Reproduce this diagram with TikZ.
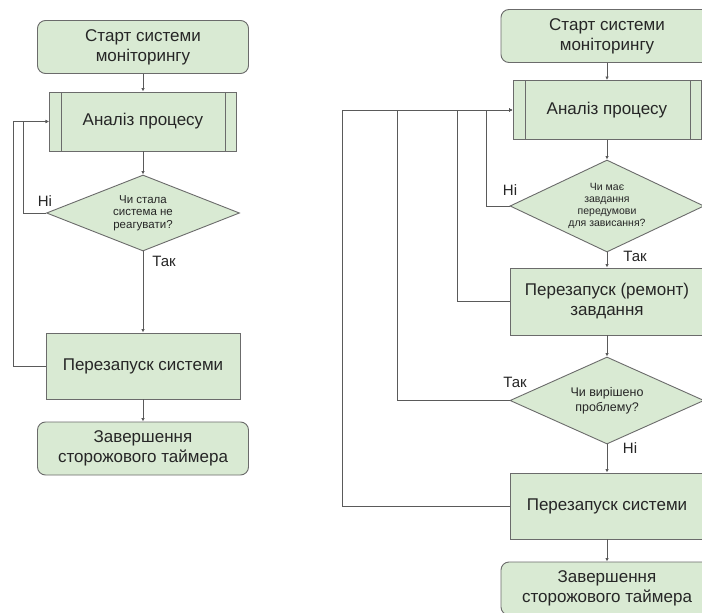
\documentclass[tikz,border=0pt]{standalone}
\usepackage{fontspec}
\setmainfont{Liberation Sans}
\usetikzlibrary{shapes.geometric,arrows.meta}
\definecolor{boxfill}{HTML}{D9EAD3}
\definecolor{boxline}{HTML}{6B6B6B}
\definecolor{wire}{HTML}{5A5A5A}
\tikzset{
  base/.style={draw=boxline, fill=boxfill, line width=0.9pt, text=black!85, align=center,
    font=\fontsize{17}{20}\selectfont, inner sep=0pt},
  terminal/.style={base, rounded corners=8pt, minimum height=53pt},
  procbox/.style={base, minimum height=66pt},
  subproc/.style={base, minimum height=59pt,
    path picture={
      \draw[boxline, line width=0.9pt] ([xshift=12pt]path picture bounding box.north west) -- ([xshift=12pt]path picture bounding box.south west);
      \draw[boxline, line width=0.9pt] ([xshift=-11pt]path picture bounding box.north east) -- ([xshift=-11pt]path picture bounding box.south east);
    }},
  decision/.style={base, diamond, aspect=2.5, font=\fontsize{11.5}{12.5}\selectfont},
  wirearrow/.style={draw=wire, line width=0.8pt, -{Latex[length=3.5pt,width=3.5pt]}},
  answer/.style={font=\fontsize{15}{17}\selectfont, text=black!85, inner sep=0pt}
}
\begin{document}
\begin{tikzpicture}[x=1pt, y=-1pt]
\clip (0,0) rectangle (702,613);
\fill[white] (0,0) rectangle (702,613);

% left chart
\node[terminal, minimum width=211pt] (lstart) at (143,47) {Старт системи\\моніторингу};
\node[subproc, minimum width=187pt] (lanalysis) at (143,121.5) {Аналіз процесу};
\node[decision, minimum width=193pt, minimum height=76pt] (lcheck) at (143,213) {Чи стала\\система не\\реагувати?};
\node[procbox, minimum width=194pt] (lrestart) at (143,366) {Перезапуск системи};
\node[terminal, minimum width=211pt] (lend) at (143,448.5) {Завершення\\сторожового таймера};

\draw[wirearrow] (lstart) -- (lanalysis);
\draw[wirearrow] (lanalysis) -- (lcheck);
\draw[wirearrow] (lcheck) -- (lrestart);
\draw[wirearrow] (lrestart) -- (lend);
\draw[wirearrow] (lcheck.west) -- ++(-23,0) |- (lanalysis.west);
\draw[wirearrow] (lrestart.west) -- ++(-32,0) |- (lanalysis.west);

\node[answer] (lno) at (45,201) {Ні};
\node[answer] (lyes) at (164,261) {Так};

% right chart
\node[terminal, minimum width=212pt] (rstart) at (607,36) {Старт системи\\моніторингу};
\node[subproc, minimum width=188pt] (ranalysis) at (607,110) {Аналіз процесу};
\node[decision, minimum width=194pt, minimum height=92pt, font=\fontsize{10.5}{12}\selectfont] (rhang) at (607,206) {Чи має\\завдання\\передумови\\для зависання?};
\node[procbox, minimum width=194pt, minimum height=67pt] (rrepair) at (607,301.5) {Перезапуск (ремонт)\\завдання};
\node[decision, minimum width=194pt, minimum height=87pt, font=\fontsize{12.5}{15}\selectfont] (rsolved) at (607,400.5) {Чи вирішено\\проблему?};
\node[procbox, minimum width=194pt] (rrestart) at (607,506) {Перезапуск системи};
\node[terminal, minimum width=212pt] (rend) at (607,588.5) {Завершення\\сторожового таймера};

\draw[wirearrow] (rstart) -- (ranalysis);
\draw[wirearrow] (ranalysis) -- (rhang);
\draw[wirearrow] (rhang) -- (rrepair);
\draw[wirearrow] (rrepair) -- (rsolved);
\draw[wirearrow] (rsolved) -- (rrestart);
\draw[wirearrow] (rrestart) -- (rend);
\draw[wirearrow] (rhang.west) -- ++(-23,0) |- (ranalysis.west);
\draw[wirearrow] (rrepair.west) -- ++(-52,0) |- (ranalysis.west);
\draw[wirearrow] (rsolved.west) -- ++(-112,0) |- (ranalysis.west);
\draw[wirearrow] (rrestart.west) -- ++(-167,0) |- (ranalysis.west);

\node[answer] (rno) at (510,190) {Ні};
\node[answer] (ryes) at (635,256) {Так};
\node[answer] (ryes2) at (515,382) {Так};
\node[answer] (rno2) at (630,448) {Ні};
\end{tikzpicture}
\end{document}
